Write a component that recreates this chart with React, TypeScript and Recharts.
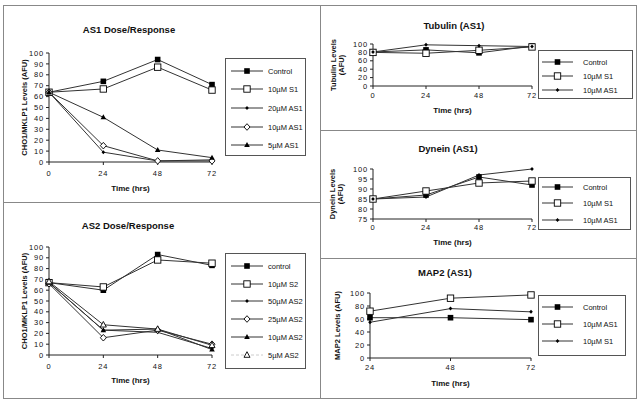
import { LineChart, Line, XAxis, YAxis, Label } from 'recharts'

const FONT = '"Liberation Sans", Arial, Helvetica, sans-serif'
const INK = '#111'
const LINE = '#333'

// time points (hrs)
const hours = [0, 24, 48, 72]
const mapHours = [24, 48, 72]

// AS1 dose/response
const as1Control = [64, 74, 94, 71]
const as1S1 = [64, 67, 87, 66]
const as1AS20 = [64, 9, 1, 2]
const as1AS10 = [64, 15, 1, 1]
const as1AS5 = [64, 41, 11, 4]

// AS2 dose/response
const as2Control = [67, 60, 93, 83]
const as2S2 = [67, 63, 88, 85]
const as2AS50 = [67, 23, 21, 6]
const as2AS25 = [66, 16, 23, 10]
const as2AS10 = [67, 23, 24, 5]
const as2AS5 = [68, 28, 24, 9]

// tubulin
const tubControl = [81, 86, 79, 95]
const tubS1 = [80, 78, 85, 93]
const tubAS1 = [81, 98, 96, 94]

// dynein
const dynControl = [85, 87, 96, 92]
const dynS1 = [85, 89, 93, 94]
const dynAS1 = [85, 86, 97, 100]

// MAP2
const mapControl = [62, 62, 59]
const mapAS1 = [72, 92, 97]
const mapS1 = [55, 76, 71]

const hourTicks = [0, 24, 48, 72]
const mapHourTicks = [24, 48, 72]
const pctTicks = [0, 10, 20, 30, 40, 50, 60, 70, 80, 90, 100]
const tubTicks = [0, 20, 40, 60, 80, 100]
const dynTicks = [75, 80, 85, 90, 95, 100]
const mapTicks = [0, 20, 40, 60, 80, 100]

type Series = { name: string, values: number[], marker: string, legendLine?: string }

function Marker ({ kind, cx, cy }: { kind: string, cx: number, cy: number }) {
  if (kind === 'fsq') return <rect x={cx - 2.8} y={cy - 2.8} width={5.6} height={5.6} fill="#000" />
  if (kind === 'osq') return <rect x={cx - 3.2} y={cy - 3.2} width={6.4} height={6.4} fill="#fff" stroke="#000" strokeWidth={0.9} />
  if (kind === 'dot') return <path d={`M${cx},${cy - 2}L${cx + 1.8},${cy}L${cx},${cy + 2}L${cx - 1.8},${cy}Z`} fill="#000" />
  if (kind === 'odia') return <path d={`M${cx},${cy - 3.3}L${cx + 3},${cy}L${cx},${cy + 3.3}L${cx - 3},${cy}Z`} fill="#fff" stroke="#000" strokeWidth={0.9} />
  if (kind === 'ftri') return <path d={`M${cx},${cy - 3}L${cx + 2.8},${cy + 2}L${cx - 2.8},${cy + 2}Z`} fill="#000" />
  if (kind === 'otri') return <path d={`M${cx},${cy - 3.3}L${cx + 3},${cy + 2.3}L${cx - 3},${cy + 2.3}Z`} fill="#fff" stroke="#000" strokeWidth={0.9} />
  return null
}

interface PanelDef {
  box: { x: number, y: number, w: number, h: number }
  plot: { x0: number, x1: number, y0: number, y1: number }
  x: number[]
  xTicks: number[]
  yDomain: [number, number]
  yTicks: number[]
  series: Series[]
  title: string
  titleX: number
  titleY: number
  yLabel: string[]
  yLabelX: number
  xLabelY: number
  xTickMargin: number
  legend: { x: number, y: number, w: number, h: number, rows: number[], lx0: number, lx1: number, tx: number }
}

const panels: PanelDef[] = [
  {
    box: { x: 0, y: 0, w: 320, h: 202 },
    plot: { x0: 49, x1: 212, y0: 53, y1: 162 },
    x: hours,
    xTicks: hourTicks,
    yDomain: [0, 100],
    yTicks: pctTicks,
    series: [
      { name: 'Control', values: as1Control, marker: 'fsq' },
      { name: '10µM S1', values: as1S1, marker: 'osq' },
      { name: '20µM AS1', values: as1AS20, marker: 'dot' },
      { name: '10µM AS1', values: as1AS10, marker: 'odia' },
      { name: '5µM AS1', values: as1AS5, marker: 'ftri' }
    ],
    title: 'AS1 Dose/Response',
    titleX: 129,
    titleY: 29,
    yLabel: ['CHO1/MKLP1 Levels (AFU)'],
    yLabelX: 24,
    xLabelY: 188,
    xTickMargin: 6,
    legend: { x: 225, y: 58, w: 80, h: 97, rows: [71, 89, 108, 127, 145], lx0: 231, lx1: 263, tx: 268 }
  },
  {
    box: { x: 0, y: 202, w: 320, h: 196 },
    plot: { x0: 49, x1: 212, y0: 247, y1: 355 },
    x: hours,
    xTicks: hourTicks,
    yDomain: [0, 100],
    yTicks: pctTicks,
    series: [
      { name: 'control', values: as2Control, marker: 'fsq' },
      { name: '10µM S2', values: as2S2, marker: 'osq' },
      { name: '50µM AS2', values: as2AS50, marker: 'dot' },
      { name: '25µM AS2', values: as2AS25, marker: 'odia' },
      { name: '10µM AS2', values: as2AS10, marker: 'ftri' },
      { name: '5µM AS2', values: as2AS5, marker: 'otri', legendLine: '#ccc' }
    ],
    title: 'AS2 Dose/Response',
    titleX: 128,
    titleY: 225,
    yLabel: ['CHO1/MKLP1 Levels (AFU)'],
    yLabelX: 24,
    xLabelY: 380,
    xTickMargin: 6,
    legend: { x: 225, y: 253, w: 80, h: 115, rows: [266, 284, 301, 319, 337, 355], lx0: 231, lx1: 263, tx: 268 }
  },
  {
    box: { x: 320, y: 0, w: 320, h: 130 },
    plot: { x0: 373, x1: 532, y0: 44, y1: 86 },
    x: hours,
    xTicks: hourTicks,
    yDomain: [0, 100],
    yTicks: tubTicks,
    series: [
      { name: 'Control', values: tubControl, marker: 'fsq' },
      { name: '10µM S1', values: tubS1, marker: 'osq' },
      { name: '10µM AS1', values: tubAS1, marker: 'dot' }
    ],
    title: 'Tubulin (AS1)',
    titleX: 454,
    titleY: 25,
    yLabel: ['Tubulin Levels', '(AFU)'],
    yLabelX: 337,
    xLabelY: 110,
    xTickMargin: 4,
    legend: { x: 538, y: 50, w: 94, h: 48, rows: [62, 76, 90], lx0: 542, lx1: 573, tx: 583 }
  },
  {
    box: { x: 320, y: 130, w: 320, h: 128 },
    plot: { x0: 373, x1: 532, y0: 169, y1: 219 },
    x: hours,
    xTicks: hourTicks,
    yDomain: [75, 100],
    yTicks: dynTicks,
    series: [
      { name: 'Control', values: dynControl, marker: 'fsq' },
      { name: '10µM S1', values: dynS1, marker: 'osq' },
      { name: '10µM AS1', values: dynAS1, marker: 'dot' }
    ],
    title: 'Dynein (AS1)',
    titleX: 448,
    titleY: 148,
    yLabel: ['Dynein Levels', '(AFU)'],
    yLabelX: 336,
    xLabelY: 242,
    xTickMargin: 3,
    legend: { x: 538, y: 177, w: 92, h: 52, rows: [187, 203, 220], lx0: 542, lx1: 573, tx: 583 }
  },
  {
    box: { x: 320, y: 258, w: 320, h: 142 },
    plot: { x0: 370, x1: 531, y0: 293, y1: 358 },
    x: mapHours,
    xTicks: mapHourTicks,
    yDomain: [0, 100],
    yTicks: mapTicks,
    series: [
      { name: 'Control', values: mapControl, marker: 'fsq' },
      { name: '10µM AS1', values: mapAS1, marker: 'osq' },
      { name: '10µM S1', values: mapS1, marker: 'dot' }
    ],
    title: 'MAP2 (AS1)',
    titleX: 445,
    titleY: 272,
    yLabel: ['MAP2 Levels (AFU)'],
    yLabelX: 337,
    xLabelY: 383,
    xTickMargin: 4,
    legend: { x: 538, y: 295, w: 87, h: 60, rows: [307, 324, 341], lx0: 542, lx1: 573, tx: 583 }
  }
]

const tickStyle = { fontSize: 7.5, fill: INK, fontFamily: FONT, letterSpacing: 0.8 }

function Legend ({ p }: { p: PanelDef }) {
  const lg = p.legend
  return (
    <svg style={{ position: 'absolute', left: lg.x, top: lg.y }} width={lg.w + 2} height={lg.h + 2}>
      <rect x={0.5} y={0.5} width={lg.w} height={lg.h} fill="#fff" stroke="#555" strokeWidth={1} />
      {p.series.map((s, i) => {
        const y = lg.rows[i] - lg.y
        const mx = (lg.lx0 + lg.lx1) / 2 - lg.x
        return (
          <g key={s.name}>
            <line x1={lg.lx0 - lg.x} x2={lg.lx1 - lg.x} y1={y} y2={y} stroke={s.legendLine ?? LINE} strokeWidth={1} strokeDasharray={s.legendLine ? '3 2' : undefined} />
            <Marker kind={s.marker} cx={mx} cy={y} />
            <text x={lg.tx - lg.x} y={y} dominantBaseline="central" fontSize={7.5} fontFamily={FONT} fill={INK}>{s.name}</text>
          </g>
        )
      })}
    </svg>
  )
}

function Panel ({ p }: { p: PanelDef }) {
  const yw = 30
  const xh = 30
  const { box, plot } = p
  const data = p.x.map((t, i) => {
    const row: Record<string, number> = { t }
    p.series.forEach((s, j) => { row['s' + j] = s.values[i] })
    return row
  })
  const margin = {
    left: plot.x0 - box.x - yw,
    right: box.x + box.w - plot.x1,
    top: plot.y0 - box.y,
    bottom: box.y + box.h - plot.y1 - xh
  }
  const yMid = (plot.y0 + plot.y1) / 2 - box.y
  const lx = p.yLabelX - box.x
  const lineGap = 7.5
  const firstX = lx - (p.yLabel.length - 1) * lineGap / 2
  return (
    <div style={{ position: 'absolute', left: box.x, top: box.y, width: box.w, height: box.h }}>
      <LineChart width={box.w} height={box.h} margin={margin} data={data}>
        <XAxis
          dataKey="t"
          type="number"
          domain={[p.xTicks[0], p.xTicks[p.xTicks.length - 1]]}
          ticks={p.xTicks}
          interval={0}
          height={xh}
          tickSize={3}
          tickMargin={p.xTickMargin}
          tick={tickStyle}
          axisLine={{ stroke: '#222' }}
          tickLine={{ stroke: '#222' }}
        >
          <Label content={() => (
            <text x={(plot.x0 + plot.x1) / 2 - box.x} y={p.xLabelY - box.y} textAnchor="middle" dominantBaseline="central" fontSize={8} fontWeight="bold" fontFamily={FONT} fill={INK}>Time (hrs)</text>
          )} />
        </XAxis>
        <YAxis
          type="number"
          domain={p.yDomain}
          ticks={p.yTicks}
          interval={0}
          width={yw}
          tickSize={3}
          tickMargin={2}
          tick={tickStyle}
          axisLine={{ stroke: '#222' }}
          tickLine={{ stroke: '#222' }}
        >
          <Label content={() => (
            <g>
              <text x={p.titleX - box.x} y={p.titleY - box.y} textAnchor="middle" dominantBaseline="central" fontSize={9.5} fontWeight="bold" fontFamily={FONT} fill={INK}>{p.title}</text>
              <text x={firstX} y={yMid} transform={`rotate(-90, ${firstX}, ${yMid})`} textAnchor="middle" dominantBaseline="central" fontSize={7.5} fontWeight="bold" fontFamily={FONT} fill={INK}>
                {p.yLabel.map((ln, i) => (
                  <tspan key={ln} x={firstX} dy={i === 0 ? 0 : lineGap}>{ln}</tspan>
                ))}
              </text>
            </g>
          )} />
        </YAxis>
        {p.series.map((s, j) => (
          <Line
            key={s.name}
            dataKey={'s' + j}
            name={s.name}
            stroke={LINE}
            strokeWidth={1}
            isAnimationActive={false}
            dot={(d: any) => <Marker key={d.index} kind={s.marker} cx={d.cx} cy={d.cy} />}
            activeDot={false}
          />
        ))}
      </LineChart>
      <div style={{ position: 'absolute', left: -box.x, top: -box.y }}>
        <Legend p={p} />
      </div>
    </div>
  )
}

export default function App () {
  const frame = '#888'
  return (
    <div style={{ position: 'absolute', left: 0, top: 0, width: 640, height: 400, background: '#fff', fontFamily: FONT }}>
      {panels.map((p) => <Panel key={p.title} p={p} />)}
      <div style={{ position: 'absolute', left: 3, top: 5, width: 632, height: 392, border: `1px solid ${frame}` }} />
      <div style={{ position: 'absolute', left: 320, top: 5, width: 1, height: 394, background: frame }} />
      <div style={{ position: 'absolute', left: 3, top: 202, width: 317, height: 1, background: frame }} />
      <div style={{ position: 'absolute', left: 320, top: 130, width: 316, height: 1, background: frame }} />
      <div style={{ position: 'absolute', left: 320, top: 258, width: 316, height: 1, background: frame }} />
    </div>
  )
}
